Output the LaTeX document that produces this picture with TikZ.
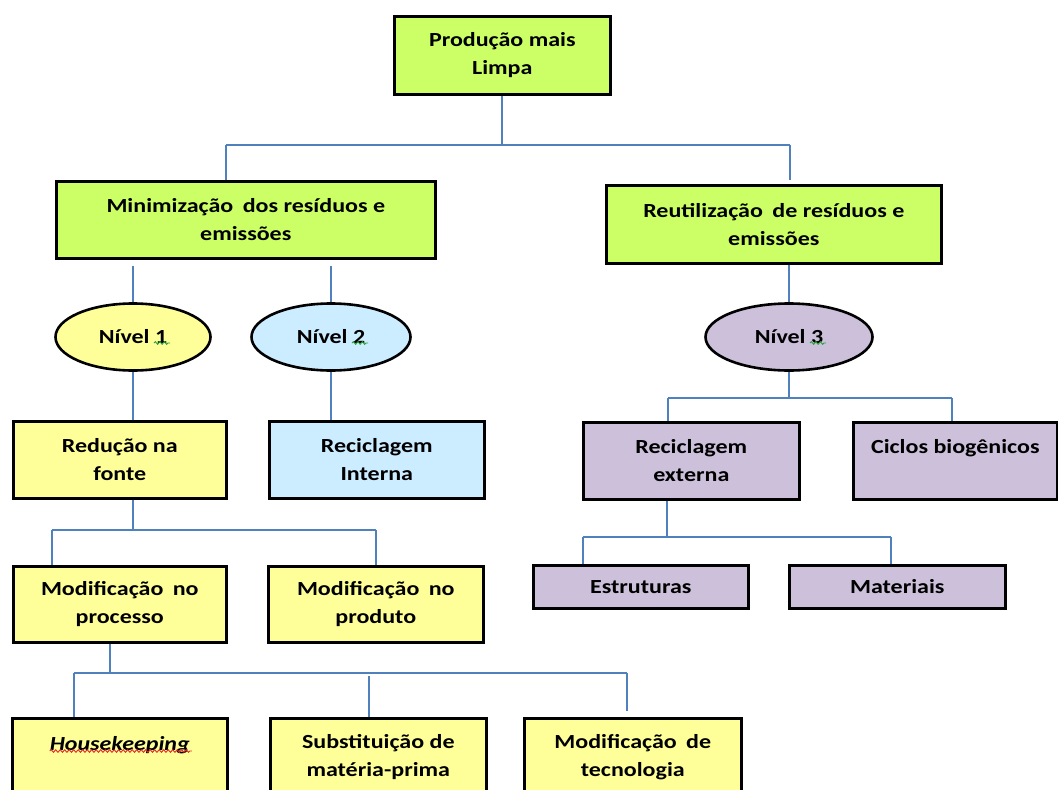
\documentclass[tikz,border=0pt]{standalone}
\usepackage{fontspec}
\setmainfont{Carlito}[FakeStretch=1.2]
\usetikzlibrary{shapes.geometric,decorations.pathmorphing,calc}

\definecolor{limefill}{RGB}{204,255,102}
\definecolor{paleyellow}{RGB}{255,255,153}
\definecolor{paleblue}{RGB}{204,236,255}
\definecolor{palepurple}{RGB}{204,192,218}
\definecolor{linkblue}{RGB}{79,129,189}
\definecolor{spellred}{RGB}{230,40,40}
\definecolor{spellgreen}{RGB}{40,160,60}

\newcommand{\wsp}{\ \hspace{0.2em}}

\tikzset{
  box/.style={draw=black, line width=2.6pt, rectangle, inner sep=0pt,
    align=center, anchor=north west, text=black,
    font=\bfseries\fontsize{20}{28}\selectfont},
  oval/.style={draw=black, line width=2.6pt, ellipse, inner sep=0pt,
    minimum width=155pt, minimum height=67pt, text=black,
    font=\bfseries\fontsize{20}{28}\selectfont},
  link/.style={draw=linkblue, line width=1.6pt},
  squiggle/.style={line width=0.9pt, decorate,
    decoration={snake, amplitude=1.3pt, segment length=4.5pt}},
}

\begin{document}
\begin{tikzpicture}[x=1pt, y=-1pt]
\useasboundingbox (0,0) rectangle (1058,790);
\clip (0,0) rectangle (1058,790);

% ---- boxes ----
\node[box, fill=limefill, minimum width=216pt, minimum height=78pt] (top) at (393,15)
  {Produção mais\\Limpa};
\node[box, fill=limefill, minimum width=379pt, minimum height=77pt] (min) at (55,180)
  {Minimização\wsp dos resíduos e\\emissões};
\node[box, fill=limefill, minimum width=335pt, minimum height=78pt] (reu) at (605,184)
  {Reutilização\wsp de resíduos e\\emissões};

\node[oval, fill=paleyellow] (n1) at (133,337) {Nível 1};
\node[oval, fill=paleblue, minimum width=159pt] (n2) at (331,337) {Nível 2};
\node[oval, fill=palepurple, minimum width=167pt] (n3) at (789,337) {Nível 3};

\node[box, fill=paleyellow, minimum width=213pt, minimum height=77pt] (red) at (12,420)
  {Redução na\\fonte};
\node[box, fill=paleblue, minimum width=215pt, minimum height=77pt] (rint) at (268,420)
  {Reciclagem\\Interna};
\node[box, fill=palepurple, minimum width=216pt, minimum height=77pt] (rext) at (582,421)
  {Reciclagem\\externa};
\node[box, fill=palepurple, minimum width=204pt, minimum height=77pt] (cic) at (852,421)
  {Ciclos biogênicos\\\mbox{}};

\node[box, fill=palepurple, minimum width=215pt, minimum height=43pt] (est) at (532,564)
  {Estruturas};
\node[box, fill=palepurple, minimum width=216pt, minimum height=43pt] (mat) at (788,564)
  {Materiais};

\node[box, fill=paleyellow, minimum width=213pt, minimum height=76pt] (mproc) at (12,565)
  {Modificação\wsp no\\processo};
\node[box, fill=paleyellow, minimum width=215pt, minimum height=76pt] (mprod) at (267,565)
  {Modificação\wsp no\\produto};

\node[box, fill=paleyellow, minimum width=215pt, minimum height=78pt] (hk) at (11,717)
  {\textit{Housekeeping}\\\mbox{}};
\node[box, fill=paleyellow, minimum width=216pt, minimum height=78pt] (sub) at (269,717)
  {Substituição de\\matéria-prima};
\node[box, fill=paleyellow, minimum width=217pt, minimum height=78pt] (tec) at (523,717)
  {Modificação\wsp de\\tecnologia};

% ---- connectors ----
\coordinate (j0) at (502,145);
\coordinate (jL) at (226,145);
\coordinate (jR) at (790,145);
\draw[link] (top.south -| j0) -- (j0);
\draw[link] (jL) -- (jR);
\draw[link] (jL) -- (jL |- min.north);
\draw[link] (jR) -- ($(jR |- reu.north)+(0,-4)$);

\draw[link] ($(n1.north |- min.south)+(0,6)$) -- (n1.north);
\draw[link] ($(n2.north |- min.south)+(0,6)$) -- (n2.north);
\draw[link] (n1.south) -- (n1.south |- red.north);
\draw[link] (n2.south) -- (n2.south |- rint.north);

\draw[link] (n3.north |- reu.south) -- (n3.north);
\coordinate (k0) at (789,398);
\coordinate (kL) at (668,398);
\coordinate (kR) at (952,398);
\draw[link] (n3.south) -- (k0);
\draw[link] (kL) -- (kR);
\draw[link] (kL) -- (kL |- rext.north);
\draw[link] (kR) -- (kR |- cic.north);

\coordinate (e0) at (667,537);
\coordinate (eL) at (583,537);
\coordinate (eR) at (891,537);
\draw[link] (e0 |- rext.south) -- (e0);
\draw[link] (eL) -- (eR);
\draw[link] (eL) -- (eL |- est.north);
\draw[link] (eR) -- (eR |- mat.north);

\coordinate (r0) at (133,530);
\coordinate (rL) at (52,530);
\coordinate (rR) at (376,530);
\draw[link] (r0 |- red.south) -- (r0);
\draw[link] (rL) -- (rR);
\draw[link] (rL) -- (rL |- mproc.north);
\draw[link] (rR) -- (rR |- mprod.north);

\coordinate (p0) at (110,673);
\coordinate (pL) at (74,673);
\coordinate (pM) at (369,676);
\coordinate (pR) at (627,673);
\draw[link] (p0 |- mproc.south) -- (p0);
\draw[link] (pL) -- (pR);
\draw[link] (pL) -- (pL |- hk.north);
\draw[link] (pM) -- (pM |- sub.north);
\draw[link] (pR) -- ($(pR |- tec.north)+(0,-6)$);

% ---- proofing marks under words ----
\draw[squiggle, spellred] ($(hk.north)+(-70,34)$) -- ($(hk.north)+(72,34)$);
\draw[squiggle, spellgreen] ($(n1.center)+(21,6)$) -- ($(n1.center)+(37,6)$);
\draw[squiggle, spellgreen] ($(n2.center)+(21,6)$) -- ($(n2.center)+(37,6)$);
\draw[squiggle, spellgreen] ($(n3.center)+(21,6)$) -- ($(n3.center)+(37,6)$);
\end{tikzpicture}
\end{document}
